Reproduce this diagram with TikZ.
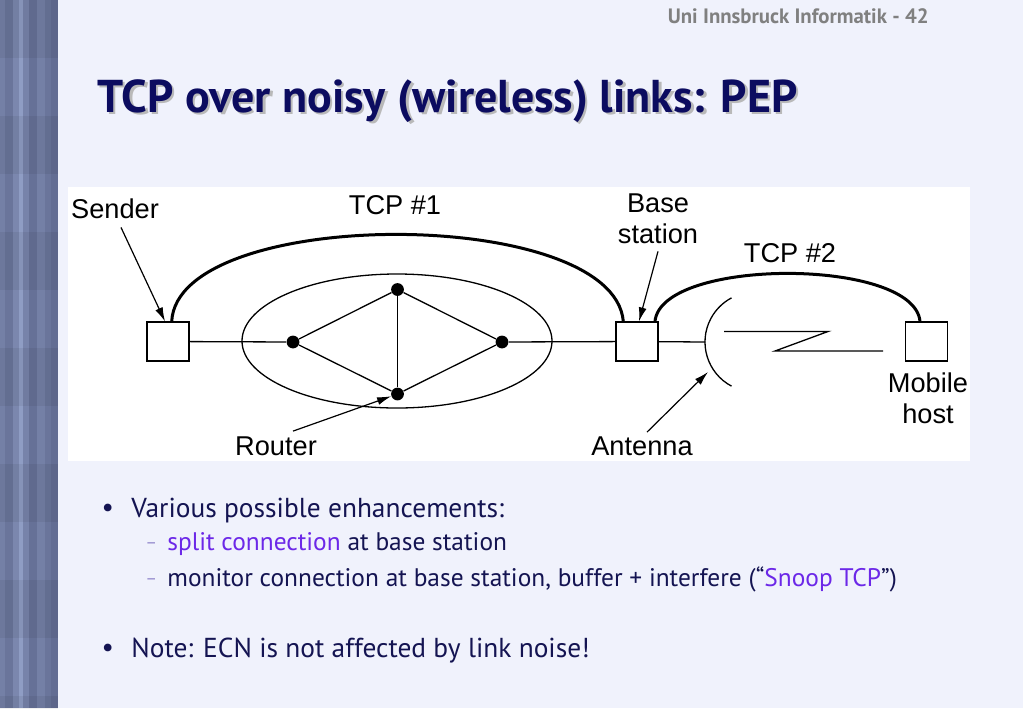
\documentclass[tikz,border=0pt]{standalone}
\usepackage{fontspec}
\setmainfont{PT Sans}
\newfontfamily\diagfont{Liberation Sans}
\usetikzlibrary{positioning, arrows.meta, calc}
\definecolor{slidebg}{RGB}{240,242,252}
\definecolor{titlenavy}{RGB}{12,12,96}
\definecolor{textnavy}{RGB}{20,20,82}
\definecolor{linkpurple}{RGB}{108,40,232}
\definecolor{dashpurple}{RGB}{150,140,205}
\definecolor{headgray}{RGB}{128,128,128}
\definecolor{stripedark}{RGB}{92,102,140}
\definecolor{stripelight}{RGB}{160,175,215}

\tikzset{
  hostbox/.style={draw, fill=white, line width=0.6pt, minimum width=21pt, minimum height=19.5pt, inner sep=0pt},
  router/.style={circle, fill=black, minimum size=6.4pt, inner sep=0pt},
  link/.style={line width=0.65pt},
  tcparc/.style={line width=1.5pt},
  pointer/.style={line width=0.6pt, -{Latex[length=7pt,width=4pt]}},
  diaglabel/.style={font=\diagfont\fontsize{13.6}{15.5}\selectfont, align=center, inner sep=0pt},
  titletext/.style={font=\bfseries\fontsize{23}{26}\selectfont, anchor=base west, inner sep=0pt},
  bullettext/.style={anchor=base west, inner sep=0pt, text=textnavy, font=\fontsize{13.7}{16}\selectfont},
  subtext/.style={anchor=base west, inner sep=0pt, text=textnavy, font=\fontsize{12.7}{15}\selectfont},
}

\begin{document}
\begin{tikzpicture}[x=0.5pt, y=-0.5pt]
\useasboundingbox (0,0) rectangle (1023,708);
\fill[slidebg] (0,0) rectangle (1023,708);

% side bar
\foreach \xa/\xb/\pct in {0/5/35, 5/13/20, 13/19/45, 19/23/75, 23/29/40, 29/37/15, 37/45/35, 45/51/20, 51/58/10}
  \fill[stripelight!\pct!stripedark] (\xa,0) rectangle (\xb,708);
\foreach \y in {0,116,...,700}
  \fill[black, opacity=0.06] (0,\y) rectangle (58,\y+58);

% header and title
\node[font=\bfseries\fontsize{10.4}{12}\selectfont, text=headgray, anchor=east, inner sep=0pt] (slidenum) at (929,16) {Uni Innsbruck Informatik - 42};
\node[titletext, text=gray!55] at (99.5,114.5) {TCP over noisy (wireless) links: PEP};
\node[titletext, text=titlenavy] (title) at (97,112) {TCP over noisy (wireless) links: PEP};

% diagram
\fill[white] (68,187) rectangle (970,461);

\node[diaglabel] (senderlbl) at (115,209) {Sender};
\node[diaglabel] (tcp1lbl) at (395,205) {TCP \#1};
\node[diaglabel] (baselbl) at (658,219) {Base\\station};
\node[diaglabel] (tcp2lbl) at (790,253) {TCP \#2};
\node[diaglabel] (routerlbl) at (276,446) {Router};
\node[diaglabel] (antlbl) at (642,446) {Antenna};
\node[diaglabel] (mobilelbl) at (928,398) {Mobile\\host};

\draw[link] (397,341) ellipse [x radius=155, y radius=67];

\node[router] (rtop) at (397.5,289.5) {};
\node[router] (rleft) at (293,342) {};
\node[router] (rright) at (502,342) {};
\node[router] (rbot) at (397.5,394) {};

\node[hostbox] (sender) at (168,341.5) {};
\node[hostbox] (base) at (637,341.5) {};
\node[hostbox] (mobile) at (926.7,341.5) {};

\coordinate (antc) at (755,342);
\coordinate (antfoot) at (705,342);
\coordinate (antpt) at (708,372);
\coordinate (zz1) at (724,331.5);
\coordinate (zz2) at (828,331.5);
\coordinate (zz3) at (775,351);
\coordinate (zz4) at (883,351);

\draw[link] (sender) -- (rleft);
\draw[link] (rleft) -- (rtop) -- (rright) -- (rbot) -- (rleft);
\draw[link] (rtop) -- (rbot);
\draw[link] (rright) -- (base);
\draw[link] (base) -- (antfoot);
\draw[link] (antc) ++(118:50) arc[start angle=118, end angle=242, radius=50];
\draw[link] (zz1) -- (zz2) -- (zz3) -- (zz4);

\draw[tcparc] ([xshift=1.85pt]sender.north) .. controls +(6,-116) and +(-10,-116) .. ([xshift=-6.85pt]base.north);
\draw[tcparc] ([xshift=9pt]base.north) .. controls +(6,-64) and +(-6,-64) .. ([xshift=-3.35pt]mobile.north);

\draw[pointer] ([xshift=3pt,yshift=-4pt]senderlbl.south) -- ([xshift=-1.5pt]sender.north);
\draw[pointer] ([xshift=8.5pt,yshift=2.5pt]routerlbl.north) -- (rbot);
\draw[pointer] ([yshift=-3.5pt]baselbl.south) -- ([xshift=1pt]base.north);
\draw[pointer] ([xshift=2.5pt,yshift=2pt]antlbl.north) -- (antpt);

% bullets
\node[text=textnavy, font=\fontsize{13.7}{16}\selectfont] (dot1) at (107.7,510) {\textbullet};
\node[bullettext] (item1) at (131,517) {Various possible enhancements:};
\node[subtext, text=dashpurple, font=\fontsize{9}{10}\selectfont] (dash1) at (145,548) {–};
\node[subtext] (sub1) at (167,550) {\textcolor{linkpurple}{split connection} at base station};
\node[subtext, text=dashpurple, font=\fontsize{9}{10}\selectfont] (dash2) at (145,584) {–};
\node[subtext] (sub2) at (167,586) {monitor connection at base station, buffer + interfere (“\textcolor{linkpurple}{Snoop TCP}”)};
\node[text=textnavy, font=\fontsize{13.7}{16}\selectfont] (dot2) at (107.7,650) {\textbullet};
\node[bullettext] (item2) at (131,657) {Note: ECN is not affected by link noise!};
\end{tikzpicture}
\end{document}
